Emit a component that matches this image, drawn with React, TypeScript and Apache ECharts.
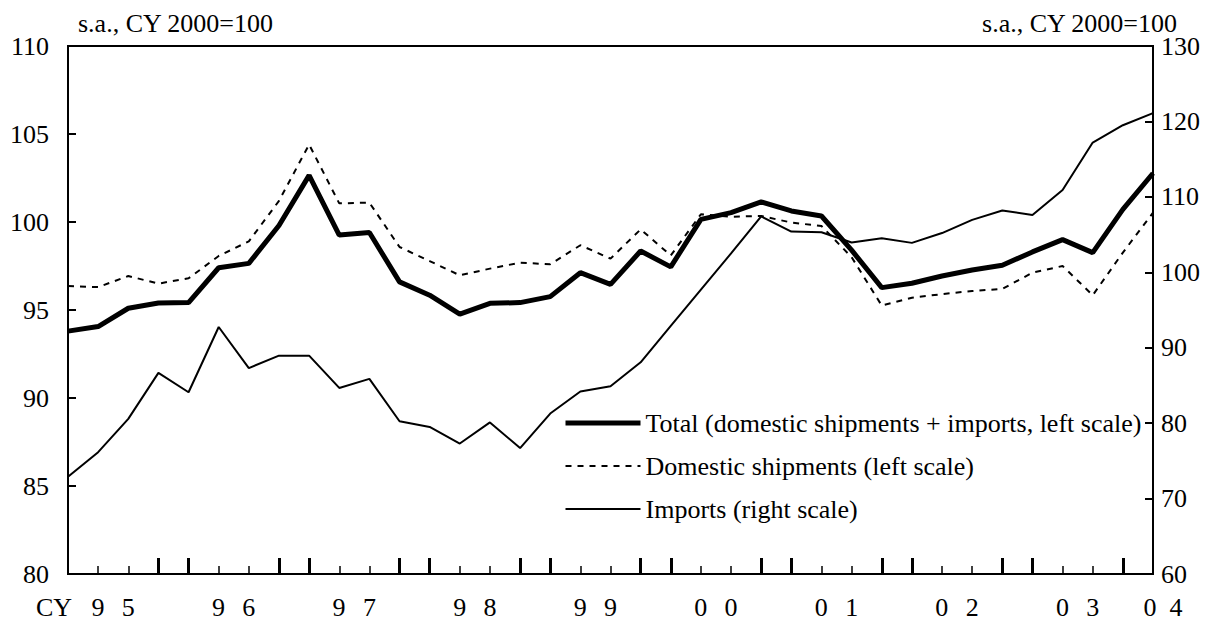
import React, { useEffect, useRef } from "react";
import * as echarts from "echarts";

const years = ["95", "96", "97", "98", "99", "00", "01", "02", "03", "04"];
const quarterNames = ["Q1", "Q2", "Q3", "Q4"];
const yearTickLabels = ["9\u2002\u20065", "9\u2002\u20066", "9\u2002\u20067", "9\u2002\u20068", "9\u2002\u20069", "0\u2002\u20060", "0\u2002\u20061", "0\u2002\u20062", "0\u2002\u20063"];
const lastTickLabel = "0\u20024";
const firstTickLabel = "CY";

const totalValues = [93.8, 94.06, 95.1, 95.4, 95.42, 97.4, 97.65, 99.8, 102.65, 99.26, 99.4, 96.6, 95.84, 94.76, 95.38, 95.42, 95.76, 97.12, 96.46, 98.35, 97.45, 100.15, 100.53, 101.14, 100.63, 100.34, 98.4, 96.27, 96.52, 96.93, 97.27, 97.54, 98.3, 99.0, 98.26, 100.72, 102.77];
const domesticValues = [96.36, 96.3, 96.93, 96.5, 96.8, 98.07, 98.9, 101.2, 104.4, 101.06, 101.1, 98.58, 97.78, 96.97, 97.35, 97.69, 97.6, 98.68, 97.92, 99.58, 98.1, 100.44, 100.3, 100.34, 99.97, 99.77, 98.0, 95.25, 95.7, 95.9, 96.08, 96.2, 97.12, 97.5, 95.84, 98.26, 100.53];
const importValues = [72.9, 76.15, 80.57, 86.66, 84.1, 92.75, 87.3, 88.95, 88.95, 84.67, 85.87, 80.25, 79.5, 77.3, 80.1, 76.7, 81.27, 84.2, 84.9, 88.07, 92.9, 97.7, 102.5, 107.4, 105.4, 105.3, 103.95, 104.5, 103.9, 105.2, 106.95, 108.2, 107.6, 110.9, 117.2, 119.5, 121.1];

const seriesNames = [
  "Total (domestic shipments + imports, left scale)",
  "Domestic shipments (left scale)",
  "Imports (right scale)",
];
const unitLabel = "s.a., CY 2000=100";

const categories: string[] = [];
years.forEach((y) => quarterNames.forEach((q) => categories.push(y + q)));
categories.length = totalValues.length;

const FONT = "'Liberation Serif', 'Times New Roman', serif";

export default function App() {
  const ref = useRef<HTMLDivElement>(null);
  useEffect(() => {
    if (!ref.current) return;
    const chart = echarts.init(ref.current, undefined, { renderer: "svg" });
    const n = categories.length;
    chart.setOption({
      animation: false,
      backgroundColor: "#fff",
      textStyle: { fontFamily: FONT, color: "#000" },
      grid: {
        left: 68,
        right: 60,
        top: 46,
        bottom: 51,
        show: true,
        borderColor: "#000",
        borderWidth: 2,
        backgroundColor: "transparent",
      },
      legend: {
        orient: "vertical",
        left: 563,
        top: 408,
        padding: 0,
        itemWidth: 75,
        itemHeight: 20,
        itemGap: 13,
        textStyle: { fontFamily: FONT, fontSize: 26, color: "#000", lineHeight: 30 },
        data: [
          { name: seriesNames[0], itemStyle: { opacity: 0 }, lineStyle: { width: 5, color: "#000", type: "solid" } },
          { name: seriesNames[1], itemStyle: { opacity: 0 }, lineStyle: { width: 2, color: "#000", type: [6, 6] } },
          { name: seriesNames[2], itemStyle: { opacity: 0 }, lineStyle: { width: 2, color: "#000", type: "solid" } },
        ],
      },
      xAxis: [
        {
          type: "category",
          data: categories,
          boundaryGap: false,
          position: "bottom",
          axisLine: { show: true, lineStyle: { color: "#000", width: 2 } },
          axisTick: {
            show: true,
            inside: true,
            length: 8,
            lineStyle: { color: "#000", width: 1.5 },
            interval: (i: number) => i % 4 === 1 || i % 4 === 2,
          },
          axisLabel: {
            show: true,
            margin: 20,
            fontFamily: FONT,
            fontSize: 26,
            color: "#000",
            interval: (i: number) => i === 0 || i === n - 1 || i % 4 === 1,
            formatter: (_v: string, i: number) => {
              if (i === 0) return "{c|" + firstTickLabel + "}";
              if (i === n - 1) return "{e|" + lastTickLabel + "}";
              return "{y|" + yearTickLabels[(i - 1) / 4] + "}";
            },
            rich: {
              c: { fontFamily: FONT, fontSize: 26, padding: [0, 28, 0, 0] },
              y: { fontFamily: FONT, fontSize: 26, padding: [0, 0, 0, 30] },
              e: { fontFamily: FONT, fontSize: 26, padding: [0, 0, 0, 20] },
            },
          },
          splitLine: { show: false },
        },
        {
          type: "category",
          data: categories,
          boundaryGap: false,
          position: "bottom",
          offset: 0,
          axisLine: { show: false },
          axisTick: {
            show: true,
            inside: true,
            length: 16,
            lineStyle: { color: "#000", width: 3 },
            interval: (i: number) => i > 0 && i < n - 1 && (i % 4 === 3 || i % 4 === 0),
          },
          axisLabel: { show: false },
          splitLine: { show: false },
        },
      ],
      yAxis: [
        {
          type: "value",
          min: 80,
          max: 110,
          interval: 5,
          position: "left",
          axisLine: { show: true, lineStyle: { color: "#000", width: 2 } },
          axisTick: { show: true, inside: true, length: 8, lineStyle: { color: "#000", width: 2 } },
          axisLabel: { margin: 19, fontFamily: FONT, fontSize: 26, color: "#000", lineHeight: 24 },
          splitLine: { show: false },
        },
        {
          type: "value",
          min: 60,
          max: 130,
          interval: 10,
          position: "right",
          axisLine: { show: true, lineStyle: { color: "#000", width: 2 } },
          axisTick: { show: true, inside: true, length: 8, lineStyle: { color: "#000", width: 2 } },
          axisLabel: { margin: 8, fontFamily: FONT, fontSize: 26, color: "#000", lineHeight: 24 },
          splitLine: { show: false },
        },
      ],
      graphic: [
        {
          type: "text",
          left: 78,
          top: 10,
          style: { text: unitLabel, font: "26px " + FONT, fill: "#000", lineHeight: 24 },
        },
        {
          type: "text",
          right: 35,
          top: 10,
          style: { text: unitLabel, font: "26px " + FONT, fill: "#000", lineHeight: 24 },
        },
      ],
      series: [
        {
          name: seriesNames[0],
          type: "line",
          data: totalValues,
          xAxisIndex: 0,
          yAxisIndex: 0,
          symbol: "none",
          lineStyle: { color: "#000", width: 5, type: "solid" },
          itemStyle: { color: "#000" },
          z: 4,
        },
        {
          name: seriesNames[1],
          type: "line",
          data: domesticValues,
          xAxisIndex: 0,
          yAxisIndex: 0,
          symbol: "none",
          lineStyle: { color: "#000", width: 2, type: [6, 6] },
          itemStyle: { color: "#000" },
          z: 3,
        },
        {
          name: seriesNames[2],
          type: "line",
          data: importValues,
          xAxisIndex: 0,
          yAxisIndex: 1,
          symbol: "none",
          lineStyle: { color: "#000", width: 2, type: "solid" },
          itemStyle: { color: "#000" },
          z: 3,
        },
      ],
    });
    return () => chart.dispose();
  }, []);
  return (
    <div
      ref={ref}
      style={{ position: "fixed", left: 0, top: 0, width: 1213, height: 625, background: "#fff" }}
    />
  );
}
